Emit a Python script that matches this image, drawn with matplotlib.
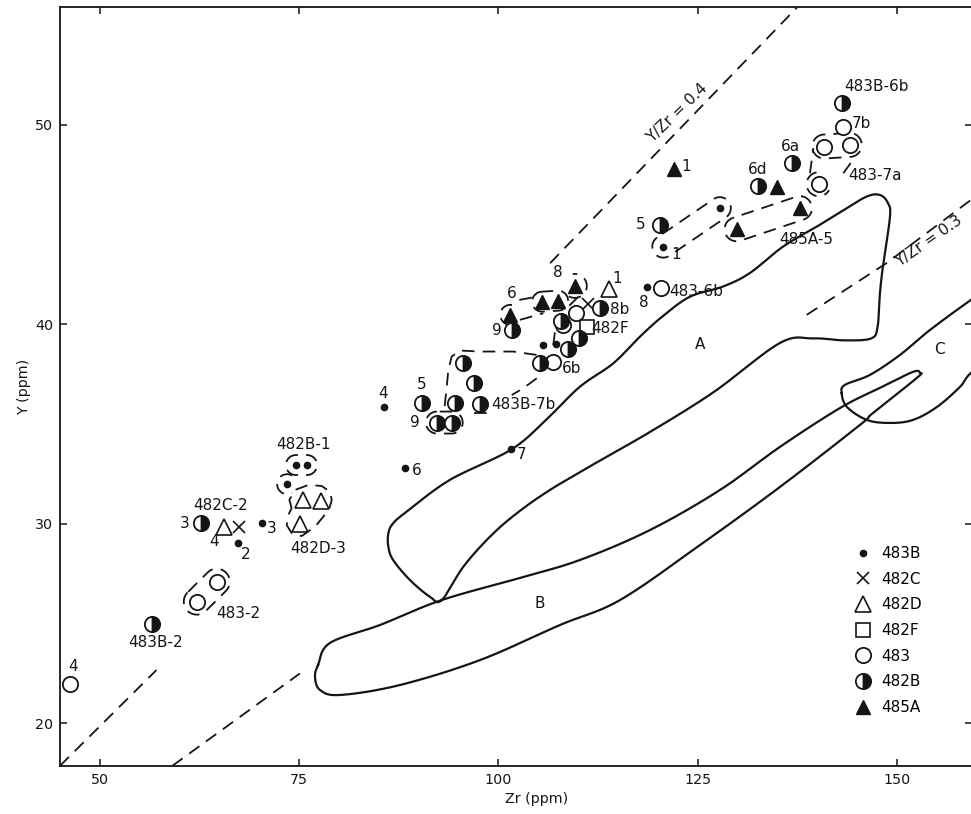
import numpy as np
import matplotlib
matplotlib.use("Agg")
import matplotlib.pyplot as plt

plt.rcParams['font.family'] = ['DejaVu Sans']
INK = '#151515'
FS = 11

# ---- analyses, Zr and Y in ppm ----
s483B_zr = [70.3, 67.3, 74.6, 76.0, 73.5, 85.6, 88.3, 101.65, 105.65, 107.3, 118.7, 120.7, 127.8]
s483B_y = [30.03, 29.06, 32.95, 32.95, 31.99, 35.88, 32.79, 33.74, 38.97, 39.02, 41.87, 43.9, 45.83]

s482C_zr = [67.5, 111.2]
s482C_y = [29.86, 41.03]

s482D_zr = [65.6, 75.5, 77.8, 75.1, 113.9]
s482D_y = [29.86, 31.2, 31.16, 29.98, 41.77]

s482F_zr = [111.1]
s482F_y = [39.89]

s483_zr = [46.26, 64.67, 62.16, 109.8, 108.15, 106.9, 120.4, 140.2, 140.9, 144.1, 143.2]
s483_y = [21.96, 27.1, 26.1, 40.56, 39.97, 38.13, 41.82, 47.03, 48.92, 49.0, 49.92]

s482B_zr = [62.66, 56.5, 95.6, 96.9, 90.4, 94.6, 97.7, 92.3, 94.15, 101.7, 107.9, 110.1,
            108.8, 105.2, 112.8, 120.3, 132.55, 136.9, 143.09]
s482B_y = [30.03, 25.0, 38.05, 37.05, 36.05, 36.08, 36.01, 35.08, 35.08, 39.72, 40.19, 39.31,
           38.77, 38.05, 40.81, 44.99, 46.95, 48.11, 51.09]

s485A_zr = [101.5, 105.5, 107.5, 109.6, 122.05, 129.9, 135.0, 137.85]
s485A_y = [40.48, 41.14, 41.19, 41.93, 47.8, 44.77, 46.91, 45.83]

# point labels
labels = [
    ("483B-6b", 147.5, 51.93), ("7b", 145.6, 50.05), ("483-7a", 147.3, 47.49),
    ("6a", 136.6, 48.92), ("6d", 132.6, 47.78), ("1", 123.6, 47.91),
    ("485A-5", 138.7, 44.24), ("5", 117.87, 44.99), ("1", 122.3, 43.49),
    ("8", 107.5, 42.6), ("1", 114.85, 42.32), ("8", 118.3, 41.09),
    ("483-6b", 124.9, 41.65), ("8b", 115.27, 40.73), ("482F", 114.0, 39.81),
    ("6", 101.68, 41.56), ("9", 99.8, 39.72), ("6b", 109.2, 37.8),
    ("5", 90.4, 36.97), ("483B-7b", 103.1, 35.96), ("9", 89.55, 35.08),
    ("4", 85.57, 36.55), ("7", 102.94, 33.46), ("6", 89.76, 32.70),
    ("482B-1", 75.53, 33.96), ("482D-3", 77.42, 28.78), ("482C-2", 65.2, 30.94),
    ("3", 60.69, 30.03), ("4", 64.35, 29.11), ("3", 71.57, 29.78), ("2", 68.34, 28.44),
    ("483-2", 67.38, 25.52), ("483B-2", 56.93, 24.03), ("4", 46.67, 22.84),
]
field_names = [("A", 125.3, 38.97), ("B", 105.23, 26.03), ("C", 155.4, 38.73)]

# ---- field outlines ----
A_zr = [92.9, 91.4, 88.9, 86.8, 86.2, 86.2, 86.8, 88.5, 93.9, 101.68, 106.2, 110.25, 114.43,
        117.78, 120.6, 124.05, 128.2, 131.58, 135.72, 139.95, 143.25, 146.22, 147.89, 148.89,
        149.15, 148.26, 147.89, 147.6, 146.8, 143.5, 139.5, 135.34, 127.0, 119.0, 112.0,
        106.48, 102.31, 98.96, 95.61]
A_y = [26.18, 26.35, 27.19, 28.19, 28.86, 29.53, 30.03, 30.61, 32.2, 33.74, 35.3, 36.88, 38.05,
       39.39, 40.4, 41.39, 41.9, 42.58, 43.9, 44.9, 45.71, 46.41, 46.49, 46.09,
       45.41, 42.9, 41.58, 39.9, 39.3, 39.2, 39.3, 39.07, 36.6, 34.6, 33.0,
       31.7, 30.53, 29.36, 27.85]

B_zr = [77.38, 78.88, 85.16, 92.9, 102.72, 110.25, 119.03, 127.82, 135.34, 142.88, 147.89,
        152.03, 152.91, 152.53, 147.01, 145.38, 135.34, 125.31, 115.27, 107.74, 97.7, 87.66,
        80.14, 77.63, 77.0]
B_y = [22.92, 24.03, 24.93, 26.18, 27.29, 28.19, 29.69, 31.7, 33.86, 35.81, 36.82,
       37.62, 37.57, 37.32, 35.56, 34.96, 31.85, 28.94, 26.18, 24.93, 23.17, 21.92,
       21.42, 21.67, 22.32]

C_zr = [143.09, 143.5, 146.64, 150.4, 154.16, 159.31, 163.0, 163.0, 159.31, 157.93, 155.04,
        152.03, 149.15, 146.26, 143.75]
C_y = [36.55, 36.97, 37.47, 38.47, 39.72, 41.23, 42.2, 38.7, 37.57, 36.87, 35.86,
       35.21, 35.06, 35.21, 35.86]

# Y/Zr reference lines, drawn in pieces
ratio_lines = [
    ([45.0, 57.1], [17.87, 22.67]),
    ([106.5, 137.5], [43.07, 55.9]),
    ([59.1, 75.1], [17.87, 22.5]),
    ([138.7, 148.7, 159.5], [40.48, 43.07, 46.3]),
]

# dashed groupings: stadiums (end 1, end 2, radius px), arcs and free polylines
loops = [
    ((62.16, 26.1), (64.67, 27.1), 13),
    ((74.6, 32.95), (76.0, 32.95), 10),
    ((92.3, 35.08), (94.15, 35.08), 11),
    ((105.5, 41.14), (107.5, 41.19), 10),
    ((120.7, 43.9), (127.8, 45.83), 11),
    ((129.9, 44.77), (137.85, 45.83), 12),
    ((140.9, 48.92), (144.1, 49.0), 12),
]
arcs = [
    ((73.5, 31.99), 10, 60, 300),
    ((101.5, 40.48), 10, 80, 260),
    ((109.6, 41.93), 12, -120, 100),
    ((140.2, 47.03), 12, 100, 330),
]
paths = [
    ([74.07, 73.78, 74.49, 76.16, 77.84, 78.88, 79.1, 78.8, 78.04, 77.0, 75.33, 74.08, 73.45, 73.65, 74.07],
     [30.78, 31.2, 31.7, 31.95, 31.9, 31.61, 31.2, 30.78, 30.36, 29.86, 29.39, 29.53, 29.94, 30.45, 30.78]),
    ([104.8, 101.88, 97.7, 95.19, 94.15, 93.73, 93.53, 93.31, 93.19],
     [38.47, 38.64, 38.64, 38.69, 38.39, 37.72, 36.88, 36.05, 35.63]),
    ([104.82, 103.14, 101.68], [37.3, 36.8, 36.46]),
    ([97.0, 99.0], [35.55, 35.55]),
    ([102.64, 104.82], [41.23, 41.39]),
    ([102.72, 105.65], [40.23, 40.56]),
    ([110.04, 108.78], [41.39, 40.89]),
    ([106.9, 107.24], [38.97, 40.06]),
    ([139.11, 139.53], [47.58, 48.84]),
    ([143.29, 144.34], [47.58, 48.16]),
]

fig = plt.figure(figsize=(9.71, 8.14), dpi=100)
ax = fig.add_axes([60 / 971, 48 / 814, 912 / 971, 758.7 / 814])
ax.set_xlim(45.0, 159.44)
ax.set_ylim(17.86, 55.9)
ax.set_xticks([50, 75, 100, 125, 150])
ax.set_yticks([20, 30, 40, 50])
ax.tick_params(direction='in', length=5, width=1.1, top=True, right=True,
               labelsize=10.3, colors=INK, pad=5)
for s in ax.spines.values():
    s.set_linewidth(1.3)
    s.set_color(INK)
ax.set_xlabel('Zr (ppm)', fontsize=10.3, color=INK)
ax.set_ylabel('Y (ppm)', fontsize=10.3, color=INK, labelpad=3)
ax.xaxis.set_label_coords(0.523, -0.034)


def smooth(xs, ys, closed=True, n=14):
    # Catmull-Rom through the outline points, done in display space
    pts = ax.transData.transform(np.c_[xs, ys])
    if closed:
        P = np.vstack([pts[-1], pts, pts[0], pts[1]])
    else:
        P = np.vstack([pts[0], pts, pts[-1]])
    out = []
    t = np.linspace(0, 1, n, endpoint=False)[:, None]
    for i in range(1, len(P) - 2):
        p0, p1, p2, p3 = P[i - 1], P[i], P[i + 1], P[i + 2]
        out.append(0.5 * (2 * p1 + (-p0 + p2) * t + (2 * p0 - 5 * p1 + 4 * p2 - p3) * t ** 2
                          + (-p0 + 3 * p1 - 3 * p2 + p3) * t ** 3))
    out.append(P[-2][None])
    xy = ax.transData.inverted().transform(np.vstack(out))
    return xy[:, 0], xy[:, 1]


def to_data(pts):
    xy = ax.transData.inverted().transform(pts)
    return xy[:, 0], xy[:, 1]


dash = dict(color=INK, lw=1.3, linestyle=(0, (7, 4.5)), zorder=2)

for xs, ys in [(A_zr, A_y), (B_zr, B_y), (C_zr, C_y)]:
    sx, sy = smooth(xs, ys)
    ax.plot(sx, sy, color=INK, lw=1.6, zorder=2, solid_joinstyle='round')

for xs, ys in ratio_lines:
    ax.plot(xs, ys, **dash)

for p, q, r in loops:
    a = ax.transData.transform(p)
    b = ax.transData.transform(q)
    ang = np.arctan2(b[1] - a[1], b[0] - a[0])
    t1 = np.linspace(np.pi / 2, 1.5 * np.pi, 20) + ang
    t2 = np.linspace(-np.pi / 2, np.pi / 2, 20) + ang
    pts = np.vstack([a + r * np.c_[np.cos(t1), np.sin(t1)],
                     b + r * np.c_[np.cos(t2), np.sin(t2)]])
    pts = np.vstack([pts, pts[:1]])
    ax.plot(*to_data(pts), **dash)

for c, r, a0, a1 in arcs:
    cc = ax.transData.transform(c)
    t = np.radians(np.linspace(a0, a1, 30))
    ax.plot(*to_data(cc + r * np.c_[np.cos(t), np.sin(t)]), **dash)

for xs, ys in paths:
    ax.plot(xs, ys, **dash)

# symbols
mk = dict(linestyle='none', zorder=4)
h1, = ax.plot(s483B_zr, s483B_y, marker='o', ms=4.5, color=INK, label='483B', **mk)
h2, = ax.plot(s482C_zr, s482C_y, marker='x', ms=8, mew=1.2, color=INK, label='482C', **mk)
h3, = ax.plot(s482D_zr, s482D_y, marker='^', ms=11, mew=1.2, mfc='white', mec=INK, label='482D', **mk)
h4, = ax.plot(s482F_zr, s482F_y, marker='s', ms=10, mew=1.2, mfc='white', mec=INK, label='482F', **mk)
h5, = ax.plot(s483_zr, s483_y, marker='o', ms=11, mew=1.3, mfc='white', mec=INK, label='483', **mk)
h6, = ax.plot(s482B_zr, s482B_y, marker='o', ms=11, mew=1.3, fillstyle='right', mfc=INK,
              mfcalt='white', mec=INK, label='482B', **mk)
h7, = ax.plot(s485A_zr, s485A_y, marker='^', ms=9.5, color=INK, label='485A', **mk)

for txt, x, y in labels + field_names:
    ax.text(x, y, txt, fontsize=FS, color=INK, ha='center', va='center', zorder=5)

ax.text(122.5, 50.6, 'Y/Zr = 0.4', fontsize=FS, color=INK, rotation=44,
        ha='center', va='center', zorder=5)
ax.text(154.0, 44.15, 'Y/Zr = 0.3', fontsize=FS, color=INK, rotation=35,
        ha='center', va='center', zorder=5)

ax.legend(handles=[h1, h2, h3, h4, h5, h6, h7], loc='upper left',
          bbox_to_anchor=(0.8725, 0.29), frameon=False, fontsize=FS,
          handlelength=1.0, handletextpad=0.7, labelspacing=0.7,
          borderpad=0, borderaxespad=0)

fig.savefig('out.png', dpi=100)
